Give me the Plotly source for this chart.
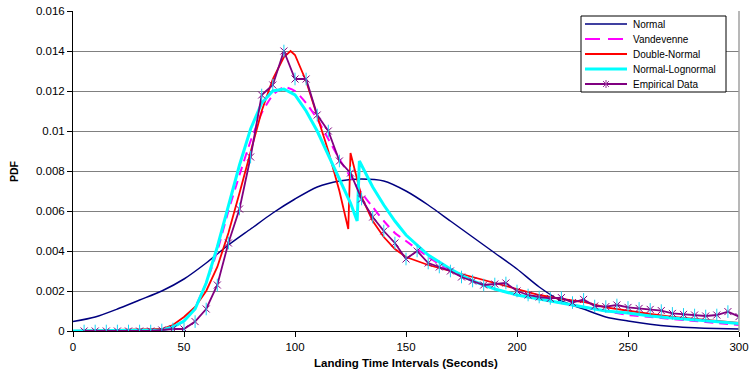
import plotly.graph_objects as go

# ---- data ----
normal_x = [0, 10, 20, 30, 40, 50, 60, 70, 80, 90, 100, 110, 120, 130, 140, 150, 160, 170, 180, 190,
            200, 210, 220, 230, 240, 250, 260, 270, 280, 290, 300]
normal_y = [0.00047, 0.0007, 0.0011, 0.00155, 0.0020, 0.0026, 0.0034, 0.0043, 0.0051, 0.0059, 0.0066,
            0.0072, 0.0075, 0.0076, 0.0075, 0.0070, 0.0063, 0.0055, 0.0047, 0.0039, 0.0031, 0.0022,
            0.0015, 0.0011, 0.0007, 0.0005, 0.00034, 0.00023, 0.00016, 0.00012, 0.0001]

vand_x = [0, 40, 45, 50, 55, 60, 65, 70, 75, 80, 85, 90, 95, 100, 105, 110, 115, 120, 125, 130, 135,
          140, 145, 150, 160, 170, 180, 190, 200, 210, 220, 230, 240, 250, 260, 270, 280, 290, 300]
vand_y = [0, 0.00005, 0.0002, 0.0005, 0.0012, 0.0024, 0.0040, 0.0060, 0.0078, 0.0095, 0.0109, 0.0118,
          0.0122, 0.0120, 0.0114, 0.0106, 0.0096, 0.0086, 0.0077, 0.0069, 0.0062, 0.0055, 0.0049,
          0.0045, 0.0037, 0.0030, 0.0025, 0.0021, 0.0018, 0.0016, 0.0014, 0.0012, 0.0010, 0.0008,
          0.0007, 0.0006, 0.0005, 0.0004, 0.0003]

dn_x = [0, 40, 45, 50, 55, 60, 65, 70, 75, 80, 85, 90, 95, 98, 100, 105, 110, 115, 120, 124, 125, 130,
        135, 140, 145, 150, 160, 170, 180, 190, 200, 210, 220, 230, 240, 250, 260, 270, 280, 290, 300]
dn_y = [0, 0.0001, 0.0003, 0.0007, 0.0012, 0.0020, 0.0032, 0.0049, 0.0069, 0.0090, 0.0110, 0.0126,
        0.0137, 0.0140, 0.0138, 0.0125, 0.0108, 0.0090, 0.0070, 0.0051, 0.0089, 0.0067, 0.0055,
        0.0047, 0.0041, 0.0037, 0.0033, 0.0030, 0.0027, 0.0024, 0.0021, 0.0018, 0.0016, 0.00145,
        0.00118, 0.0010, 0.00085, 0.0007, 0.0006, 0.0005, 0.0004]

nl_x = [0, 40, 45, 50, 55, 60, 65, 70, 75, 80, 85, 90, 95, 100, 105, 110, 115, 120, 125, 128, 129, 135,
        140, 145, 150, 160, 170, 180, 190, 200, 210, 220, 230, 240, 250, 260, 270, 280, 290, 300]
nl_y = [0, 0.00005, 0.0002, 0.0005, 0.0011, 0.0024, 0.0042, 0.0063, 0.0083, 0.0101, 0.0114, 0.0120,
        0.0121, 0.0118, 0.0110, 0.0100, 0.0088, 0.0076, 0.0064, 0.0055, 0.0085, 0.0072, 0.0063,
        0.0055, 0.0048, 0.0038, 0.0031, 0.0025, 0.0021, 0.0018, 0.0016, 0.0014, 0.0012, 0.0010,
        0.0009, 0.00075, 0.00065, 0.00055, 0.00046, 0.00038]

emp_x = [5, 10, 15, 20, 25, 30, 35, 40, 45, 50, 55, 60, 65, 70, 75, 80, 85, 90, 95, 100, 105, 110,
         115, 120, 125, 130, 135, 140, 145, 150, 155, 160, 165, 170, 175, 180, 185, 190, 195, 200,
         205, 210, 215, 220, 225, 230, 235, 240, 245, 250, 255, 260, 265, 270, 275, 280, 285, 290,
         295, 300]
emp_y = [0, 0, 0, 0, 0, 0, 0, 0.00005, 0.0001, 0.0001, 0.00047, 0.0011, 0.0023, 0.0044, 0.0061,
         0.0087, 0.0118, 0.0123, 0.0140, 0.0126, 0.0126, 0.0108, 0.0100, 0.0085, 0.0079, 0.0066,
         0.0057, 0.0050, 0.0044, 0.0036, 0.0040, 0.0034, 0.0032, 0.0030, 0.0027, 0.0025, 0.0023,
         0.00235, 0.0024, 0.0020, 0.0018, 0.0017, 0.00163, 0.00167, 0.00142, 0.00158, 0.00125,
         0.00122, 0.0013, 0.00118, 0.00113, 0.00108, 0.00102, 0.00088, 0.00083, 0.0008, 0.00075,
         0.0008, 0.00097, 0.00072]

series_names = ["Normal", "Vandevenne", "Double-Normal", "Normal-Lognormal", "Empirical Data"]
series_colors = ["#000080", "#FF00FF", "#FF0000", "#00FFFF", "#800080"]

x_ticks = [0, 50, 100, 150, 200, 250, 300]
y_ticks = [0, 0.002, 0.004, 0.006, 0.008, 0.01, 0.012, 0.014, 0.016]
y_tick_text = ["0", "0.002", "0.004", "0.006", "0.008", "0.01", "0.012", "0.014", "0.016"]

FONT = "Liberation Sans, Arial, sans-serif"
EMP_MARK = "#993399"

fig = go.Figure()
fig.add_trace(go.Scatter(x=normal_x, y=normal_y, name=series_names[0], mode="lines",
                         line=dict(color=series_colors[0], width=1.5, shape="spline", smoothing=0.7)))
fig.add_trace(go.Scatter(x=vand_x, y=vand_y, name=series_names[1], mode="lines",
                         line=dict(color=series_colors[1], width=2, dash="9px,6px", shape="spline", smoothing=0.5)))
fig.add_trace(go.Scatter(x=dn_x, y=dn_y, name=series_names[2], mode="lines",
                         line=dict(color=series_colors[2], width=1.8)))
fig.add_trace(go.Scatter(x=nl_x, y=nl_y, name=series_names[3], mode="lines",
                         line=dict(color=series_colors[3], width=3)))
fig.add_trace(go.Scatter(x=emp_x, y=emp_y, name=series_names[4], mode="lines+markers",
                         line=dict(color=series_colors[4], width=1.8),
                         marker=dict(symbol="x-thin-open", size=7,
                                     line=dict(color=EMP_MARK, width=1))))
fig.add_trace(go.Scatter(x=emp_x, y=emp_y, mode="markers", showlegend=False, hoverinfo="skip",
                         marker=dict(symbol="line-ns-open", size=9,
                                     line=dict(color=EMP_MARK, width=1))))

# ---- plot-area geometry (px) ----
W, H = 749, 374
L, R, T, B = 73, 10, 11, 43
PW, PH = W - L - R, H - T - B

def px(xp):
    return (xp - L) / PW

def py(yp):
    return (H - B - yp) / PH

shapes = [dict(type="line", xref="paper", yref="paper", x0=1, x1=1, y0=0, y1=1,
               line=dict(color="#A0A0A0", width=1.5))]
annotations = []

# custom legend box
shapes.append(dict(type="rect", xref="paper", yref="paper", x0=px(581), x1=px(726), y0=py(92), y1=py(16),
                   fillcolor="white", line=dict(color="black", width=1)))
row_y = [24, 39, 54, 69, 84]
widths = [1.5, 2, 1.8, 3, 1.8]
for i, name in enumerate(series_names):
    yy = py(row_y[i])
    shapes.append(dict(type="line", xref="paper", yref="paper", x0=px(585), x1=px(627), y0=yy, y1=yy,
                       line=dict(color=series_colors[i], width=widths[i],
                                 dash="15px,8px" if i == 1 else "solid")))
    annotations.append(dict(x=px(631), y=yy, xref="paper", yref="paper", text=name, showarrow=False,
                            xanchor="left", yanchor="middle", font=dict(family=FONT, size=10, color="black")))
# legend marker (asterisk) for Empirical Data
cx, cy, r = 606, 84, 3
for dx, dy in [(r, r), (r, -r), (0, r + 1)]:
    shapes.append(dict(type="line", xref="paper", yref="paper",
                       x0=px(cx - dx), x1=px(cx + dx), y0=py(cy - dy), y1=py(cy + dy),
                       line=dict(color=EMP_MARK, width=1)))

# axis titles
annotations.append(dict(x=0.5, y=py(363), xref="paper", yref="paper", showarrow=False,
                        text="<b>Landing Time Intervals (Seconds)</b>", xanchor="center", yanchor="middle",
                        font=dict(family=FONT, size=11.5, color="black")))
annotations.append(dict(x=px(14), y=0.5, xref="paper", yref="paper", showarrow=False, textangle=-90,
                        text="<b>PDF</b>", xanchor="center", yanchor="middle",
                        font=dict(family=FONT, size=10.5, color="black")))

fig.update_layout(
    width=W, height=H,
    margin=dict(l=L, r=R, t=T, b=B),
    paper_bgcolor="white", plot_bgcolor="white",
    font=dict(family=FONT, size=11.5, color="black"),
    showlegend=False,
    xaxis=dict(range=[0, 300], tickvals=x_ticks, showgrid=False, zeroline=False, automargin=False,
               showline=True, linecolor="black", linewidth=1,
               ticks="outside", ticklen=5, tickcolor="black"),
    yaxis=dict(range=[0, 0.016], tickvals=y_ticks, ticktext=y_tick_text, automargin=False,
               showgrid=True, gridcolor="#808080", gridwidth=1, zeroline=False,
               showline=True, linecolor="black", linewidth=1,
               ticks="outside", ticklen=5, tickcolor="black"),
    shapes=shapes,
    annotations=annotations,
)

fig.write_html("out.html", config={"displayModeBar": False},
               post_script="document.body.style.margin='0';document.body.style.padding='0';")
